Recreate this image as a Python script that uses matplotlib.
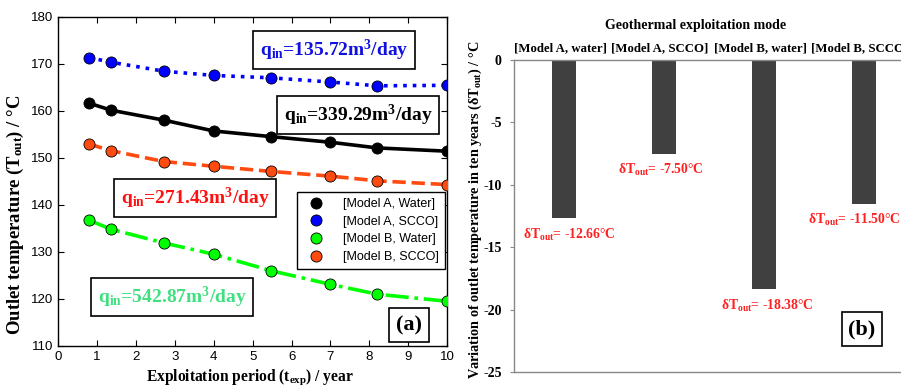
import numpy as np
import matplotlib
matplotlib.use('Agg')
import matplotlib.pyplot as plt

plt.rcParams['mathtext.fontset'] = 'custom'
plt.rcParams['mathtext.rm'] = 'Liberation Serif:bold'
plt.rcParams['mathtext.it'] = 'Liberation Serif:bold'
plt.rcParams['mathtext.bf'] = 'Liberation Serif:bold'
plt.rcParams['axes.unicode_minus'] = False

SERIF = 'Liberation Serif'
SANS = 'Liberation Sans'

# exploitation period (years) and outlet temperature (degC)
years = [0.8, 1.37, 2.72, 4.0, 5.47, 7.0, 8.2, 10.0]
t_a_water = [161.6, 160.1, 158.0, 155.7, 154.5, 153.3, 152.1, 151.4]
t_a_scco = [171.3, 170.3, 168.4, 167.5, 167.0, 166.1, 165.3, 165.4]
t_b_water = [136.7, 134.8, 131.9, 129.5, 126.0, 123.1, 121.0, 119.5]
t_b_scco = [152.9, 151.5, 149.2, 148.2, 147.1, 146.1, 145.1, 144.3]

series_labels = ['[Model A, Water]', '[Model A, SCCO]',
                 '[Model B, Water]', '[Model B, SCCO]']

# drop of outlet temperature after ten years
modes = ['[Model A, water]', '[Model A, SCCO]',
         '[Model B, water]', '[Model B, SCCO]']
delta_t = [-12.66, -7.50, -18.38, -11.50]
delta_ticks = [-25, -20, -15, -10, -5, 0]

fig = plt.figure(figsize=(9.01, 3.87), dpi=100)

# ---- (a) outlet temperature curves
ax = fig.add_axes([0.0644, 0.106, 0.432, 0.851])
styles = [('k', '-'), ('#0000ff', ':'), ('#00ff00', '-.'), ('#ff4a10', '--')]
for vals, (c, ls), lab in zip([t_a_water, t_a_scco, t_b_water, t_b_scco],
                              styles, series_labels):
    ax.plot(years, vals, color=c, linestyle=ls, lw=2.6, zorder=2)
    ax.plot(years, vals, 'o', color=c, mec='k', mew=0.6, ms=8,
            label=lab, zorder=3)

ax.set_xlim(0, 10)
ax.set_ylim(110, 180)
ax.set_xticks(range(0, 11))
ax.set_yticks(range(110, 181, 10))
ax.set_xticklabels([str(v) for v in range(0, 11)], family=SANS)
ax.set_yticklabels([str(v) for v in range(110, 181, 10)], family=SANS)
ax.tick_params(direction='in', top=True, right=True, length=4,
               labelsize=9.5)
for s in ax.spines.values():
    s.set_linewidth(1.0)

leg = ax.legend(loc='upper right', bbox_to_anchor=(0.995, 0.468),
                borderaxespad=0, fancybox=False, framealpha=1,
                edgecolor='k', prop={'family': SANS, 'size': 9},
                handletextpad=1.2, borderpad=0.5, labelspacing=0.45)
leg.get_frame().set_linewidth(1.0)

fig.text(250 / 901, 1 - 377 / 387,
         r'Exploitation period (t$_{\mathrm{exp}}$) / year',
         ha='center', va='center', family=SERIF, weight='bold',
         fontsize=11.2)
fig.text(15 / 901, 1 - 215 / 387,
         r'Outlet temperature (T$_{\mathrm{out}}$) / °C',
         ha='center', va='center', rotation=90, family=SERIF,
         weight='bold', fontsize=13.5)

box = dict(boxstyle='square,pad=0.35', fc='white', ec='k', lw=1.2)
flow_notes = [
    (334, 50, r'q$_{\mathrm{in}}$=135.72m$^{3}$/day', '#1010e0'),
    (358, 115, r'q$_{\mathrm{in}}$=339.29m$^{3}$/day', 'k'),
    (195, 198, r'q$_{\mathrm{in}}$=271.43m$^{3}$/day', '#ff1010'),
    (172, 297, r'q$_{\mathrm{in}}$=542.87m$^{3}$/day', '#40e080'),
]
for px, py, txt, c in flow_notes:
    fig.text(px / 901, 1 - py / 387, txt, ha='center', va='center',
             color=c, family=SERIF, weight='bold', fontsize=14, bbox=box)

fig.text(409 / 901, 1 - 325 / 387, '(a)', ha='center', va='center',
         family=SERIF, weight='bold', fontsize=16,
         bbox=dict(boxstyle='square,pad=0.3', fc='white', ec='k', lw=1.2))

# ---- (b) temperature variation in ten years
bx = fig.add_axes([0.5705, 0.0388, 0.444, 0.806])
pos = np.arange(1, len(modes) + 1)
bx.bar(pos, delta_t, width=0.24, color='#404040', zorder=2)
bx.set_xlim(0.5, 4.5)
bx.set_ylim(-25, 0)
bx.set_yticks(delta_ticks)
bx.set_yticklabels([str(v) for v in delta_ticks], family=SERIF,
                   weight='bold', fontsize=10)
bx.xaxis.tick_top()
bx.set_xticks(pos - 0.04)
bx.set_xticklabels(modes, family=SERIF, weight='bold', fontsize=9.2)
bx.tick_params(axis='x', length=0, pad=4)
bx.tick_params(axis='y', direction='out', length=3, color='#888888',
               pad=6)
for s in bx.spines.values():
    s.set_color('#888888')
    s.set_linewidth(1.0)

# value labels under each bar, nudged sideways a little
nudge = [3.5, -2.5, 2.0, -7.0]
for p, d, dx in zip(pos, delta_t, nudge):
    bx.annotate('δT$_{\\mathrm{out}}$= %.2f°C' % d, (p, d),
                xytext=(dx, -12), textcoords='offset points',
                ha='center', va='center', color='#ff2020',
                family=SERIF, weight='bold', fontsize=9.8)

fig.text(696 / 901, 1 - 25 / 387, 'Geothermal exploitation mode',
         ha='center', va='center', family=SERIF, weight='bold',
         fontsize=10)
fig.text(475 / 901, 1 - 210 / 387,
         'Variation of outlet temperature in ten years (δT$_{\\mathrm{out}}$) / °C',
         ha='center', va='center', rotation=90, family=SERIF,
         weight='bold', fontsize=10.3)
fig.text(862 / 901, 1 - 329 / 387, '(b)', ha='center', va='center',
         family=SERIF, weight='bold', fontsize=16,
         bbox=dict(boxstyle='square,pad=0.3', fc='white', ec='k', lw=1.2))

fig.savefig('out.png', dpi=100)
